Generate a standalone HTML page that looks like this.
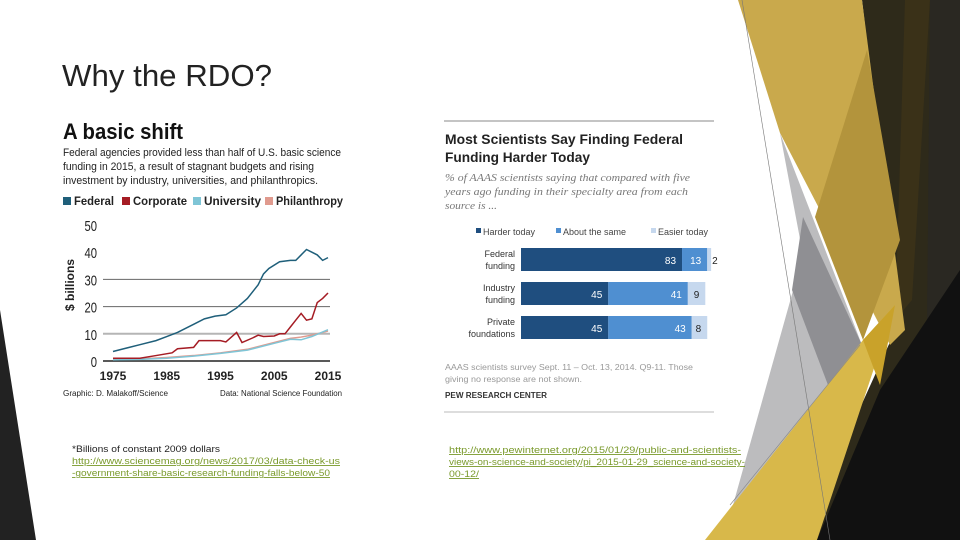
<!DOCTYPE html>
<html><head><meta charset="utf-8"><style>
html,body{margin:0;padding:0;background:#fff;}
svg{display:block;font-family:"Liberation Sans",sans-serif;}
</style></head><body>
<svg width="960" height="540" viewBox="0 0 960 540">
<g>
<polygon points="862,0 960,0 960,540 800,540 900,320" fill="#2e2a1a"/>
<polygon points="905,0 930,0 912,300 895,320" fill="#3a3118"/>
<polygon points="930,0 960,0 960,540 925,540" fill="#2a2822"/>
<polygon points="738,0 862,0 905,330 890,345 780,133" fill="#c9a94c"/>
<polygon points="815,217 867,50 900,240 863,340" fill="#b3943c"/>
<polygon points="780,133 862,345 733,505 803,255" fill="#bcbcbe"/>
<polygon points="803,217 862,345 828,385 792,290" fill="#8f8f93"/>
<polygon points="705,540 863,340 895,305 817,540" fill="#d8b84a"/>
<polygon points="863,340 895,305 880,385" fill="#c9a22a"/>
<polygon points="960,270 960,540 817,540 880,390" fill="#111"/>
<line x1="742" y1="0" x2="830" y2="540" stroke="#777" stroke-width="0.6"/>
<line x1="730" y1="505" x2="860" y2="345" stroke="#888" stroke-width="0.6"/>
</g>
<polygon points="0,310 36,540 0,540" fill="#222"/>
<text x="62" y="86" font-size="31" fill="#222" textLength="210" lengthAdjust="spacingAndGlyphs">Why the RDO?</text>

<g>
<text x="63" y="139" font-size="22" font-weight="bold" fill="#111" textLength="120" lengthAdjust="spacingAndGlyphs">A basic shift</text>
<g font-size="11" fill="#222">
<text x="63" y="156" textLength="278" lengthAdjust="spacingAndGlyphs">Federal agencies provided less than half of U.S. basic science</text>
<text x="63" y="170" textLength="251" lengthAdjust="spacingAndGlyphs">funding in 2015, a result of stagnant budgets and rising</text>
<text x="63" y="184" textLength="255" lengthAdjust="spacingAndGlyphs">investment by industry, universities, and philanthropics.</text>
</g>
<g id="legend" font-size="12" font-weight="bold" fill="#222"></g>
<g id="plot"></g>
<text x="63" y="396" font-size="8" fill="#222" textLength="105" lengthAdjust="spacingAndGlyphs">Graphic: D. Malakoff/Science</text>
<text x="220" y="396" font-size="8" fill="#222" textLength="122" lengthAdjust="spacingAndGlyphs">Data: National Science Foundation</text>
</g>

<g>
<line x1="444" y1="121" x2="714" y2="121" stroke="#888" stroke-width="1"/>
<g font-size="14" font-weight="bold" fill="#222">
<text x="445" y="144" textLength="238" lengthAdjust="spacingAndGlyphs">Most Scientists Say Finding Federal</text>
<text x="445" y="162" textLength="145" lengthAdjust="spacingAndGlyphs">Funding Harder Today</text>
</g>
<g font-size="11" font-style="italic" fill="#777" font-family="Liberation Serif,serif">
<text x="445" y="181" textLength="245" lengthAdjust="spacingAndGlyphs">% of AAAS scientists saying that compared with five</text>
<text x="445" y="195" textLength="243" lengthAdjust="spacingAndGlyphs">years ago funding in their specialty area from each</text>
<text x="445" y="209" textLength="52" lengthAdjust="spacingAndGlyphs">source is ...</text>
</g>
<g id="rlegend" font-size="9" fill="#444"></g>
<g id="bars"></g>
<g font-size="8.5" fill="#999">
<text x="445" y="370" textLength="248" lengthAdjust="spacingAndGlyphs">AAAS scientists survey Sept. 11 – Oct. 13, 2014. Q9-11. Those</text>
<text x="445" y="382" textLength="137" lengthAdjust="spacingAndGlyphs">giving no response are not shown.</text>
</g>
<text x="445" y="398" font-size="8" font-weight="bold" fill="#333" textLength="102" lengthAdjust="spacingAndGlyphs">PEW RESEARCH CENTER</text>
<line x1="444" y1="412" x2="714" y2="412" stroke="#bbb" stroke-width="1"/>
</g>

<g font-size="9">
<text x="72" y="452" fill="#222" textLength="148" lengthAdjust="spacingAndGlyphs">*Billions of constant 2009 dollars</text>
<text x="72" y="464" fill="#7a9a2c" text-decoration="underline" textLength="268" lengthAdjust="spacingAndGlyphs">http://www.sciencemag.org/news/2017/03/data-check-us</text>
<text x="72" y="476" fill="#7a9a2c" text-decoration="underline" textLength="258" lengthAdjust="spacingAndGlyphs">-government-share-basic-research-funding-falls-below-50</text>
<text x="449" y="453" fill="#7a9a2c" text-decoration="underline" textLength="292" lengthAdjust="spacingAndGlyphs">http://www.pewinternet.org/2015/01/29/public-and-scientists-</text>
<text x="449" y="465" fill="#7a9a2c" text-decoration="underline" textLength="296" lengthAdjust="spacingAndGlyphs">views-on-science-and-society/pi_2015-01-29_science-and-society-</text>
<text x="449" y="477" fill="#7a9a2c" text-decoration="underline" textLength="30" lengthAdjust="spacingAndGlyphs">00-12/</text>
</g>
</svg>
<script>
const NS="http://www.w3.org/2000/svg";
function mk(tag,attrs,parent,txt){const e=document.createElementNS(NS,tag);for(const k in attrs)e.setAttribute(k,attrs[k]);if(txt!==undefined)e.textContent=txt;parent.appendChild(e);return e;}

// ---- Left line chart data ----
const years=[1975,1977,1980,1983,1985,1987,1990,1992,1994,1996,1998,2000,2002,2003,2004,2006,2008,2009,2010,2011,2012,2013,2014,2015];
const federal=[3.5,4.5,6,7.5,9,10.5,13.5,15.5,16.5,17,19.5,23,28,32,34,36.5,37,37,39,41,40,39,37,38];
const corpYears=[1975,1980,1983,1986,1987,1990,1991,1993,1995,1996,1998,1999,2001,2002,2003,2005,2006,2007,2008,2009,2010,2011,2012,2013,2014,2015];
const corporate=[1,1,2,3,4.5,5,7.5,7.5,7.5,7,10.5,6.8,8.5,9.5,9,9.2,10,10,12.5,15,17.5,15,15.5,21.5,23,25];
const smallYears=[1975,1980,1985,1990,1995,2000,2005,2008,2010,2012,2015];
const university=[0.4,0.6,1,1.8,2.8,4,6.5,8,7.8,9,11.5];
const philanthropy=[0.5,0.8,1.3,2,3,4.3,6.8,8.3,8.8,9.5,11];
const yTicks=[0,10,20,30,40,50];
const xTicks=[1975,1985,1995,2005,2015];
const seriesNames=["Federal","Corporate","University","Philanthropy"];
const seriesColors=["#1f5f7a","#a51c24","#7fc5d6","#e09a8e"];

const X=y=>113+(y-1975)*(215/40);
const Y=v=>361-v*2.72;
const plot=document.getElementById('plot');
yTicks.forEach(t=>{
  if(t===10||t===20||t===30){
    const l=mk('line',{x1:103,x2:330,y1:Y(t),y2:Y(t),stroke:t===10?'#b5b5b5':'#666','stroke-width':t===10?2:1},plot);
    
    
  }
  const tx=mk('text',{x:97,y:Y(t)+6,'font-size':15,'text-anchor':'end',fill:'#222',transform:`translate(${97*0.25},0) scale(0.75,1)`},plot,String(t));
  
  
});
const ax=mk('line',{x1:103,x2:330,y1:Y(0),y2:Y(0),stroke:'#222','stroke-width':1.5},plot);


xTicks.forEach(t=>{
  const tx=mk('text',{x:X(t),y:380,'font-size':12,'font-weight':'bold','text-anchor':'middle',fill:'#222'},plot,String(t));
  
  
});
const yt=mk('text',{x:0,y:0,'font-size':12,'font-weight':'bold',fill:'#222','text-anchor':'middle',transform:'translate(74,285) rotate(-90)'},plot,'$ billions');


function line(xs,vs,color,name){
  const p=mk('polyline',{points:xs.map((x,i)=>X(x)+','+Y(vs[i])).join(' '),fill:'none',stroke:color,'stroke-width':1.5},plot);
  
  
}
line(smallYears,philanthropy,seriesColors[3],'line-philanthropy');
line(smallYears,university,seriesColors[2],'line-university');
line(corpYears,corporate,seriesColors[1],'line-corporate');
line(years,federal,seriesColors[0],'line-federal');

const legend=document.getElementById('legend');
const legX=[63,122,193,265];const legW=[40,54,57,67];
seriesNames.forEach((n,i)=>{
  const g=mk('g',{},legend);
  
  
  mk('rect',{x:legX[i],y:197,width:8,height:8,fill:seriesColors[i]},g);
  mk('text',{x:legX[i]+11,y:205,textLength:legW[i],lengthAdjust:'spacingAndGlyphs'},g,n);
});

// ---- Right bar chart data ----
const cats=[["Federal","funding"],["Industry","funding"],["Private","foundations"]];
const harder=[83,45,45];
const same=[13,41,43];
const easier=[2,9,8];
const respNames=["Harder today","About the same","Easier today"];
const respColors=["#1f4e7f","#4f8fd1","#c6d8ee"];
const B=v=>v*1.94;
const bars=document.getElementById('bars');
cats.forEach((c,i)=>{
  const y0=248+i*34;
  const g=mk('g',{},bars);
  
  
  const vals=[harder[i],same[i],easier[i]];
  let x=521;
  vals.forEach((v,j)=>{
    const r=mk('rect',{x:x,y:y0,width:B(v),height:23,fill:respColors[j]},g);
    
    
    const col=j===2?'#222':'#fff';
    mk('text',{x:j===2&&v<5?x+B(v)+1:x+B(v)-6,y:y0+16,'font-size':10,'text-anchor':j===2&&v<5?'start':'end',fill:col},g,String(v));
    x+=B(v);
  });
  mk('text',{x:515,y:y0+9,'font-size':9,'text-anchor':'end',fill:'#333'},g,c[0]);
  mk('text',{x:515,y:y0+21,'font-size':9,'text-anchor':'end',fill:'#333'},g,c[1]);
});
const rleg=document.getElementById('rlegend');
const rlx=[476,556,651];
respNames.forEach((n,i)=>{
  const g=mk('g',{},rleg);
  
  
  mk('rect',{x:rlx[i],y:228,width:5,height:5,fill:respColors[i]},g);
  mk('text',{x:rlx[i]+7,y:235},g,n);
});
</script>
</body></html>
